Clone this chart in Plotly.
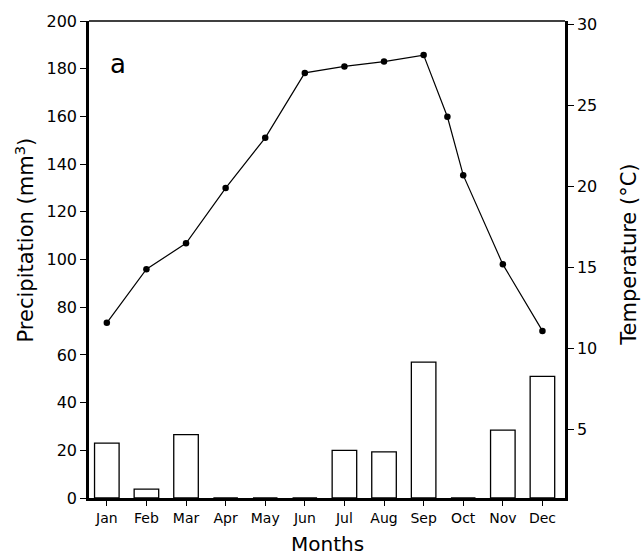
import plotly.graph_objects as go

months = ["Jan", "Feb", "Mar", "Apr", "May", "Jun", "Jul", "Aug", "Sep", "Oct", "Nov", "Dec"]
month_pos = [0, 1, 2, 3, 4, 5, 6, 7, 8, 9, 10, 11]
precip = [23, 3.7, 26.6, 0, 0, 0, 20, 19.3, 57, 0, 28.5, 51]

temp_x = [0, 1, 2, 3, 4, 5, 6, 7, 8, 8.6, 9, 10, 11]
temp = [11.6, 14.9, 16.5, 19.9, 23.0, 27.0, 27.4, 27.7, 28.1, 24.3, 20.7, 15.2, 11.1]

precip_ticks = [0, 20, 40, 60, 80, 100, 120, 140, 160, 180, 200]
temp_ticks = [5, 10, 15, 20, 25, 30]

FONT = "DejaVu Sans"

fig = go.Figure()
fig.add_trace(go.Bar(
    x=month_pos, y=precip, width=0.62,
    marker=dict(color="white", line=dict(color="black", width=1.3)),
    yaxis="y", showlegend=False,
))
fig.add_trace(go.Scatter(
    x=temp_x, y=temp, mode="lines+markers",
    line=dict(color="black", width=1.2),
    marker=dict(color="black", size=6.5),
    yaxis="y2", showlegend=False,
))

fig.update_layout(
    width=643, height=558,
    margin=dict(l=89, r=78, t=18, b=60),
    paper_bgcolor="white", plot_bgcolor="white",
    font=dict(family=FONT, color="black"),
    xaxis=dict(
        range=[-0.45, 11.57], tickvals=month_pos, ticktext=months,
        showgrid=False, zeroline=False, showline=True, linecolor="black", linewidth=2.5,
        ticks="outside", ticklen=5, tickwidth=1, tickcolor="black",
        tickfont=dict(size=14, family=FONT),
    ),
    yaxis=dict(
        range=[0, 200], tickvals=precip_ticks,
        showgrid=False, zeroline=False, showline=True, linecolor="black", linewidth=2.5,
        ticks="outside", ticklen=6, tickwidth=1, tickcolor="black",
        tickfont=dict(size=16, family=FONT),
    ),
    yaxis2=dict(
        overlaying="y", side="right", range=[0.8, 30.2], tickvals=temp_ticks,
        showgrid=False, zeroline=False, showline=True, linecolor="black", linewidth=2.5,
        ticks="outside", ticklen=6, tickwidth=1, tickcolor="black",
        tickfont=dict(size=16, family=FONT),
    ),
    bargap=0.38,
    shapes=[dict(type="line", xref="paper", yref="paper", x0=0, x1=1, y0=1, y1=1,
                 line=dict(color="black", width=1.5))],
    annotations=[
        dict(text="Precipitation (mm<sup>3</sup>)", textangle=-90, xref="paper", yref="paper",
             x=0, y=0.54, xanchor="center", yanchor="middle", xshift=-64,
             showarrow=False, font=dict(size=21, family=FONT)),
        dict(text="Temperature (°C)", textangle=-90, xref="paper", yref="paper",
             x=1, y=0.51, xanchor="center", yanchor="middle", xshift=64,
             showarrow=False, font=dict(size=21, family=FONT)),
        dict(text="Months", xref="paper", yref="paper", x=0.5, y=0,
             xanchor="center", yanchor="middle", yshift=-46,
             showarrow=False, font=dict(size=20, family=FONT)),
        dict(text="a", xref="paper", yref="paper", x=0.061, y=0.91,
             xanchor="center", yanchor="middle",
             showarrow=False, font=dict(size=26, family=FONT)),
    ],
)

fig.write_html("out.html")
